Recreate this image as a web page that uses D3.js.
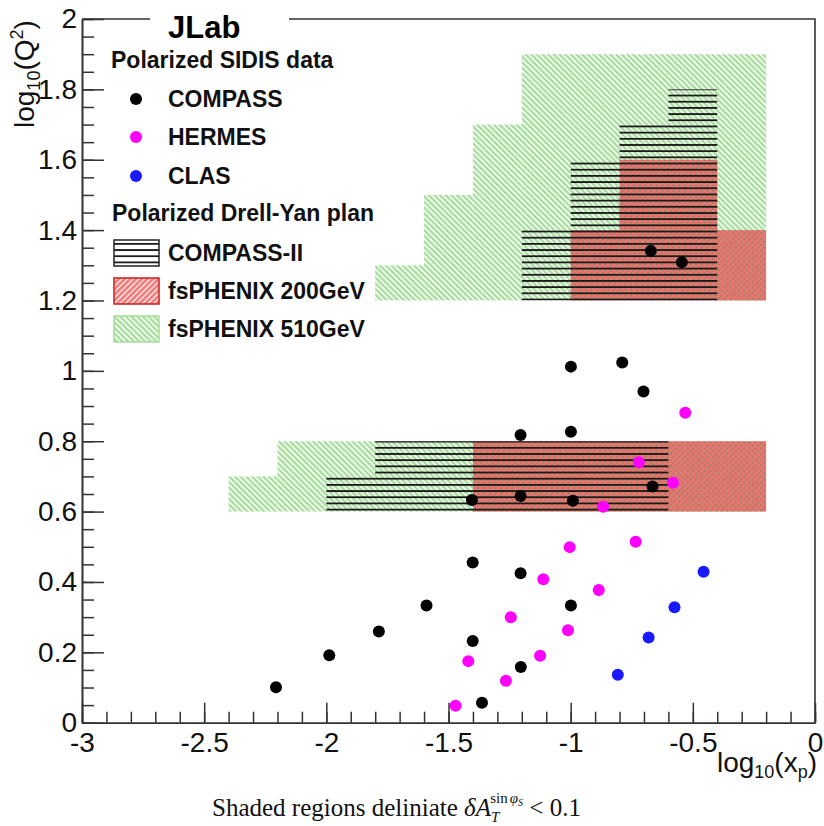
<!DOCTYPE html>
<html>
<head>
<meta charset="utf-8">
<script src="https://cdn.jsdelivr.net/npm/d3@7"></script>
<style>
  html, body { margin: 0; padding: 0; background: #fff; }
  svg { display: block; }
</style>
</head>
<body>
<svg id="chart" width="824" height="826"></svg>
<script>
// ---------------- DATA ----------------
const xTickValues = [-3, -2.5, -2, -1.5, -1, -0.5, 0];
const xTickLabels = ["-3", "-2.5", "-2", "-1.5", "-1", "-0.5", "0"];
const yTickValues = [0, 0.2, 0.4, 0.6, 0.8, 1, 1.2, 1.4, 1.6, 1.8, 2];
const yTickLabels = ["0", "0.2", "0.4", "0.6", "0.8", "1", "1.2", "1.4", "1.6", "1.8", "2"];

// COMPASS points [log10(x), log10(Q^2)]
const compassX = [-2.206, -1.988, -1.785, -1.590, -1.401, -1.401, -1.363, -1.205, -1.204, -0.999, -0.999, -0.789, -0.702, -1.205, -0.999, -1.404, -1.205, -0.991, -0.665, -0.672, -0.545];
const compassY = [0.101, 0.192, 0.259, 0.333, 0.455, 0.232, 0.057, 0.425, 0.158, 0.333, 1.012, 1.024, 0.941, 0.818, 0.827, 0.633, 0.644, 0.631, 0.671, 1.341, 1.309];
// HERMES points
const hermesX = [-0.531, -0.721, -0.581, -0.867, -1.004, -0.734, -1.112, -0.885, -1.245, -1.011, -1.125, -1.419, -1.265, -1.471];
const hermesY = [0.881, 0.740, 0.682, 0.614, 0.499, 0.514, 0.408, 0.377, 0.300, 0.263, 0.190, 0.175, 0.119, 0.048];
// CLAS points
const clasX = [-0.456, -0.575, -0.681, -0.807];
const clasY = [0.429, 0.328, 0.242, 0.136];

const seriesNames = ["COMPASS", "HERMES", "CLAS"];
const seriesColors = ["#000000", "#ff00ff", "#1a1aff"];

// Shaded regions: [xmin, xmax, ymin, ymax]
const green510Regions = [
  [-1.8, -1.6, 1.2, 1.3], [-1.6, -1.4, 1.2, 1.5], [-1.4, -1.2, 1.2, 1.7], [-1.2, -0.2, 1.2, 1.9],
  [-2.4, -2.2, 0.6, 0.7], [-2.2, -0.2, 0.6, 0.8]
];
const red200Regions = [
  [-1.0, -0.2, 1.2, 1.4], [-0.8, -0.4, 1.4, 1.6],
  [-1.4, -0.2, 0.6, 0.8]
];
const compass2Regions = [
  [-1.2, -0.4, 1.2, 1.4], [-1.0, -0.4, 1.4, 1.6], [-0.8, -0.4, 1.6, 1.7], [-0.6, -0.4, 1.7, 1.8],
  [-2.0, -0.6, 0.6, 0.7], [-1.8, -0.6, 0.7, 0.8]
];
const regionNames = ["COMPASS-II", "fsPHENIX 200GeV", "fsPHENIX 510GeV"];
const legendHeader1 = "Polarized SIDIS data";
const legendHeader2 = "Polarized Drell-Yan plan";
const titleText = "JLab";

// ---------------- CHART ----------------
const SANS = "'Liberation Sans', Arial, sans-serif";
const SERIF = "'Liberation Serif', 'Times New Roman', serif";
const svg = d3.select("#chart").style("font-family", SANS);
const x = d3.scaleLinear().domain([-3, 0]).range([82, 815]);
const y = d3.scaleLinear().domain([0, 2]).range([722.7, 19]);

const defs = svg.append("defs");
function hatch(id, angle, stripeW, stripeColor, gapColor, gapOpacity) {
  const p = defs.append("pattern").attr("id", id)
    .attr("patternUnits", "userSpaceOnUse").attr("width", 4).attr("height", 4)
    .attr("patternTransform", `rotate(${angle})`);
  p.append("rect").attr("width", 4).attr("height", 4).attr("fill", gapColor).attr("fill-opacity", gapOpacity);
  p.append("rect").attr("width", stripeW).attr("height", 4).attr("fill", stripeColor);
}
hatch("hatchGreen", -45, 2.4, "#a6dd9c", "#ffffff", 1);
hatch("hatchRed", 45, 2.7, "#f27070", "#7e4a28", 0.6);
hatch("hatchRedLegend", 45, 2.8, "#f57a7a", "#ffffff", 1);
// black horizontal lines
const period = 6.18;
const pb = defs.append("pattern").attr("id", "hatchBlack")
  .attr("patternUnits", "userSpaceOnUse").attr("width", 10).attr("height", period)
  .attr("x", 0).attr("y", y(1.8) - 0.9);
pb.append("rect").attr("width", 10).attr("height", 1.8).attr("fill", "#1a1a1a");

const rectAttrs = sel => sel
  .attr("x", d => x(d[0])).attr("width", d => x(d[1]) - x(d[0]))
  .attr("y", d => y(d[3])).attr("height", d => y(d[2]) - y(d[3]));

svg.append("g").selectAll("rect").data(green510Regions).join("rect")
  .call(rectAttrs).attr("fill", "url(#hatchGreen)");
svg.append("g").selectAll("rect").data(red200Regions).join("rect")
  .call(rectAttrs).attr("fill", "url(#hatchRed)");
svg.append("g").selectAll("rect").data(compass2Regions).join("rect")
  .call(rectAttrs).attr("fill", "url(#hatchBlack)");

// points
const series = [
  { xs: compassX, ys: compassY, color: seriesColors[0] },
  { xs: hermesX, ys: hermesY, color: seriesColors[1] },
  { xs: clasX, ys: clasY, color: seriesColors[2] }
];
series.forEach(s => {
  svg.append("g").selectAll("circle").data(s.xs.map((v, i) => [v, s.ys[i]])).join("circle")
    .attr("cx", d => x(d[0])).attr("cy", d => y(d[1])).attr("r", 6).attr("fill", s.color);
});

// axes
const axisColor = "#333";
const xMinor = d3.range(-30, 1).map(i => i / 10);
const yMinor = d3.range(0, 41).map(i => i / 20);

const gxMinor = svg.append("g").attr("transform", `translate(0,${y(0)})`)
  .call(d3.axisBottom(x).tickValues(xMinor).tickSizeInner(-11).tickSizeOuter(0).tickFormat(""));
const gx = svg.append("g").attr("transform", `translate(0,${y(0)})`)
  .call(d3.axisBottom(x).tickValues(xTickValues).tickSizeInner(-20).tickSizeOuter(0)
    .tickPadding(9).tickFormat((d, i) => xTickLabels[i]));
const gyMinor = svg.append("g").attr("transform", `translate(${x(-3)},0)`)
  .call(d3.axisLeft(y).tickValues(yMinor).tickSizeInner(-12).tickSizeOuter(0).tickFormat(""));
const gy = svg.append("g").attr("transform", `translate(${x(-3)},0)`)
  .call(d3.axisLeft(y).tickValues(yTickValues).tickSizeInner(-22).tickSizeOuter(0)
    .tickPadding(5).tickFormat((d, i) => yTickLabels[i]));
[gxMinor, gx, gyMinor, gy].forEach(g => {
  g.attr("font-family", null).attr("font-size", null);
  g.selectAll("line").attr("stroke", axisColor).attr("stroke-width", 1.5);
  g.select(".domain").attr("stroke", axisColor).attr("stroke-width", 1.6);
  g.selectAll("text").style("font-size", "28px").attr("fill", "#111").style("font-family", SANS);
});

// frame (top and right)
svg.append("path")
  .attr("d", `M${x(-3)},${y(2)}H${x(0)}V${y(0)}`)
  .attr("fill", "none").attr("stroke", axisColor).attr("stroke-width", 1.6);

// axis titles
const yt = svg.append("text").attr("transform", `translate(34,128) rotate(-90)`)
  .style("font-size", "28px").attr("fill", "#111");
yt.append("tspan").text("log");
yt.append("tspan").style("font-size", "18px").attr("dy", 6).text("10");
yt.append("tspan").attr("dy", -6).text("(Q");
yt.append("tspan").style("font-size", "18px").attr("dy", -11).text("2");
yt.append("tspan").attr("dy", 11).text(")");

const xt = svg.append("text").attr("x", 817).attr("y", 772).attr("text-anchor", "end")
  .style("font-size", "28px").attr("fill", "#111");
xt.append("tspan").text("log");
xt.append("tspan").style("font-size", "18px").attr("dy", 6).text("10");
xt.append("tspan").attr("dy", -6).text("(x");
xt.append("tspan").style("font-size", "18px").attr("dy", 6).text("p");
xt.append("tspan").attr("dy", -6).text(")");

// title with white box over the frame
svg.append("rect").attr("x", 150).attr("y", 4).attr("width", 139).attr("height", 34).attr("fill", "#fff");
svg.append("text").attr("x", 168).attr("y", 38).style("font-size", "31px").attr("font-weight", "bold")
  .attr("fill", "#000").text(titleText);

// legend
const lg = svg.append("g").attr("font-weight", "bold").style("font-size", "23px").attr("fill", "#111");
lg.append("text").attr("x", 111).attr("y", 68).text(legendHeader1);
const markerY = [99, 137, 176];
seriesNames.forEach((n, i) => {
  lg.append("circle").attr("cx", 136).attr("cy", markerY[i]).attr("r", 6).attr("fill", seriesColors[i]);
  lg.append("text").attr("x", 168).attr("y", markerY[i] + 8).text(n);
});
lg.append("text").attr("x", 112).attr("y", 221).text(legendHeader2);
const boxY = [240, 278, 316];
const boxFill = ["url(#hatchBlack)", "url(#hatchRedLegend)", "url(#hatchGreen)"];
const boxStroke = ["#222", "#c81e1e", "#a6dd9c"];
regionNames.forEach((n, i) => {
  lg.append("rect").attr("x", 114).attr("y", boxY[i]).attr("width", 45).attr("height", 26)
    .attr("fill", boxFill[i]).attr("stroke", boxStroke[i]).attr("stroke-width", 1.5);
  lg.append("text").attr("x", 168).attr("y", boxY[i] + 21).text(n);
});

// caption
const cap = svg.append("text").attr("x", 212).attr("y", 816)
  .style("font-family", SERIF).style("font-size", "25px").attr("fill", "#111");
cap.append("tspan").text("Shaded regions deliniate ");
cap.append("tspan").attr("font-style", "italic").text("δA");
cap.append("tspan").attr("font-style", "italic").style("font-size", "15px").attr("dy", 6).text("T");
cap.append("tspan").style("font-size", "15px").attr("dx", -9).attr("dy", -19).text("sin");
cap.append("tspan").style("font-size", "15px").attr("font-style", "italic").attr("dx", 2).text("φ");
cap.append("tspan").style("font-size", "10px").attr("font-style", "italic").attr("dy", 3).text("S");
cap.append("tspan").attr("dy", 10).text(" < 0.1");
</script>
</body>
</html>
